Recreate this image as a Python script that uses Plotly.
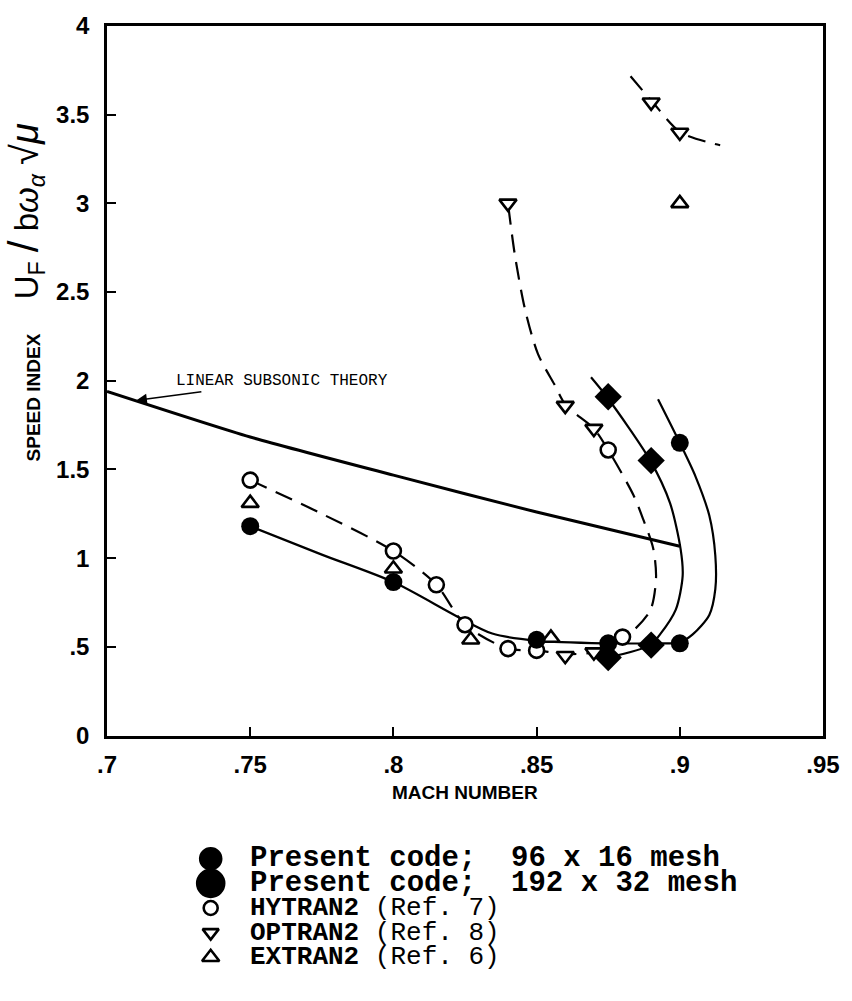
import plotly.graph_objects as go

# ---------------- data ----------------
mach_ticks = [0.70, 0.75, 0.80, 0.85, 0.90, 0.95]
mach_tick_text = [".7", ".75", ".8", ".85", ".9", ".95"]
speed_ticks = [0, 0.5, 1, 1.5, 2, 2.5, 3, 3.5, 4]
speed_tick_text = ["0", ".5", "1", "1.5", "2", "2.5", "3", "3.5", "4"]

# markers
mesh96_mach = [0.75, 0.80, 0.85, 0.875, 0.90, 0.90]
mesh96_speed = [1.18, 0.865, 0.54, 0.52, 0.52, 1.65]
mesh192_mach = [0.875, 0.89, 0.875, 0.89]
mesh192_speed = [1.91, 1.55, 0.44, 0.51]
hytran_mach = [0.75, 0.80, 0.815, 0.825, 0.84, 0.85, 0.88, 0.875]
hytran_speed = [1.44, 1.04, 0.85, 0.625, 0.49, 0.48, 0.555, 1.61]
optran_mach = [0.84, 0.86, 0.87, 0.86, 0.87, 0.89, 0.90]
optran_speed = [3.0, 1.86, 1.73, 0.45, 0.47, 3.57, 3.40]
extran_mach = [0.75, 0.80, 0.827, 0.855, 0.90]
extran_speed = [1.31, 0.94, 0.54, 0.55, 3.0]

# faired curves
linear_mach = [0.70, 0.75, 0.80, 0.85, 0.90]
linear_speed = [1.94, 1.683, 1.468, 1.26, 1.067]

fair96_mach = [0.75, 0.775, 0.80, 0.8224, 0.8345, 0.85, 0.8734, 0.89, 0.90,
               0.9045, 0.9103, 0.9124, 0.9124, 0.9103, 0.9055, 0.90, 0.8924]
fair96_speed = [1.18, 1.02, 0.865, 0.67, 0.575, 0.535, 0.52, 0.52, 0.525,
                0.57, 0.68, 0.825, 1.015, 1.24, 1.46, 1.65, 1.896]

fair192_mach = [0.875, 0.8897, 0.8931, 0.8986, 0.901, 0.9003, 0.8966, 0.8897, 0.8745, 0.869]
fair192_speed = [0.44, 0.51, 0.57, 0.71, 0.90, 1.05, 1.31, 1.55, 1.91, 2.02]

fairref_mach = [0.75, 0.775, 0.80, 0.815, 0.825, 0.84, 0.85, 0.86, 0.87, 0.88,
                0.8828, 0.8897, 0.8917, 0.8907, 0.8872, 0.8838, 0.875, 0.870,
                0.8603, 0.8562, 0.8505, 0.846, 0.8425, 0.84]
fairref_speed = [1.44, 1.25, 1.04, 0.85, 0.625, 0.49, 0.48, 0.46, 0.47, 0.555,
                 0.578, 0.706, 0.889, 1.056, 1.22, 1.356, 1.61, 1.73,
                 1.86, 1.98, 2.15, 2.4, 2.7, 3.0]

fairopt_mach = [0.8828, 0.8907, 0.9003, 0.9141]
fairopt_speed = [3.717, 3.567, 3.40, 3.328]

legend_labels = [
    "<b>Present code;\u00a0\u00a096 x 16 mesh</b>",
    "<b>Present code;\u00a0\u00a0192 x 32 mesh</b>",
    "<b>HYTRAN2</b> (Ref.\u00a07)",
    "<b>OPTRAN2</b> (Ref.\u00a08)",
    "<b>EXTRAN2</b> (Ref.\u00a06)",
]
legend_rows = [0, 1, 2, 3, 4]

# ---------------- layout helpers ----------------
W, H = 852, 1001
ML, MR, MT, MB = 107, 20, 17, 20
PW, PH = W - ML - MR, H - MT - MB


def px_x(px):          # pixel -> paper fraction
    return (px - ML) / PW


def px_y(py):
    return (H - MB - py) / PH


BLACK = "#000000"
fig = go.Figure()

line_solid = dict(color=BLACK, width=2.2, shape="spline", smoothing=0.8)
line_dash = dict(color=BLACK, width=2.2, shape="spline", smoothing=0.8, dash="18px,10px")

fig.add_trace(go.Scatter(x=linear_mach, y=linear_speed, mode="lines",
                         line=dict(color=BLACK, width=3, shape="spline", smoothing=0.6),
                         showlegend=False, hoverinfo="skip"))
fig.add_trace(go.Scatter(x=fair96_mach, y=fair96_speed, mode="lines", line=line_solid,
                         showlegend=False, hoverinfo="skip"))
fig.add_trace(go.Scatter(x=fair192_mach, y=fair192_speed, mode="lines", line=line_solid,
                         showlegend=False, hoverinfo="skip"))
fig.add_trace(go.Scatter(x=fairref_mach, y=fairref_speed, mode="lines", line=line_dash,
                         showlegend=False, hoverinfo="skip"))
fig.add_trace(go.Scatter(x=fairopt_mach, y=fairopt_speed, mode="lines", line=line_dash,
                         showlegend=False, hoverinfo="skip"))


def open_marker(sym, size):
    return dict(symbol=sym, size=size, color="white", opacity=1,
                line=dict(color=BLACK, width=2.6))


fig.add_trace(go.Scatter(x=hytran_mach, y=hytran_speed, mode="markers",
                         marker=open_marker("circle", 15), showlegend=False))
fig.add_trace(go.Scatter(x=optran_mach, y=optran_speed, mode="markers",
                         marker=open_marker("triangle-down", 15), showlegend=False))
fig.add_trace(go.Scatter(x=extran_mach, y=extran_speed, mode="markers",
                         marker=open_marker("triangle-up", 15), showlegend=False))
fig.add_trace(go.Scatter(x=mesh96_mach, y=mesh96_speed, mode="markers",
                         marker=dict(symbol="circle", size=18, color=BLACK, opacity=1),
                         showlegend=False))
fig.add_trace(go.Scatter(x=mesh192_mach, y=mesh192_speed, mode="markers",
                         marker=dict(symbol="diamond", size=21, color=BLACK, opacity=1),
                         showlegend=False))

# legend block below the chart: keys on an auxiliary axis, labels as annotations
legend_symbols = ["circle", "circle", "circle", "triangle-down", "triangle-up"]
legend_fill = [BLACK, BLACK, "#ffffff", "#ffffff", "#ffffff"]
legend_sizes = [21, 27, 14, 14, 15]
legend_fonts = [29, 29, 26, 26, 26]
for r, sym, fc, sz in zip(legend_rows, legend_symbols, legend_fill, legend_sizes):
    fig.add_trace(go.Scatter(x=[0], y=[r], mode="markers", xaxis="x2", yaxis="y2",
                             showlegend=False, hoverinfo="skip",
                             marker=dict(symbol=sym, size=sz, color=fc, opacity=1,
                                         line=dict(color=BLACK, width=2.6))))

row_top_px, row_step_px = 862, 25
annotations = []
for r, lab, fs in zip(legend_rows, legend_labels, legend_fonts):
    annotations.append(dict(x=px_x(250), y=px_y(row_top_px + row_step_px * r),
                            xref="paper", yref="paper",
                            text=lab, showarrow=False, xanchor="left", yanchor="middle",
                            font=dict(family="Liberation Mono", size=fs, color=BLACK)))

# linear theory label with arrow
annotations.append(dict(x=0.7103, y=1.89, xref="x", yref="y",
                        text="LINEAR SUBSONIC THEORY", showarrow=True,
                        ax=145, ay=-19, arrowhead=2, arrowsize=1.3, arrowwidth=1.6,
                        arrowcolor=BLACK, standoff=0,
                        font=dict(family="Liberation Mono", size=16, color=BLACK)))

# axis titles
annotations.append(dict(x=0.5, y=px_y(795), xref="paper", yref="paper",
                        text="MACH NUMBER", showarrow=False, xanchor="center", yanchor="middle",
                        font=dict(family="Liberation Sans", size=19, color=BLACK, weight="bold")))
annotations.append(dict(x=px_x(33), y=px_y(394), xref="paper", yref="paper",
                        text="SPEED INDEX", showarrow=False, textangle=-90,
                        xanchor="center", yanchor="middle",
                        font=dict(family="Liberation Sans", size=19, color=BLACK, weight="bold")))
annotations.append(dict(x=px_x(24), y=px_y(205), xref="paper", yref="paper",
                        text=("U<sub>F</sub>\u00a0<span style='font-size:42px'>/</span>\u00a0"
                              "b<i>ω</i><sub><i>α</i></sub>\u00a0"
                              "<span style='font-size:38px'>√<i>μ</i></span>"),
                        showarrow=False, textangle=-90,
                        xanchor="center", yanchor="middle",
                        font=dict(family="Liberation Sans", size=33, color=BLACK)))

# auxiliary axis placement for the legend keys (one unit per row)
key_half = 20
key_dom = [px_x(212 - key_half), px_x(212 + key_half)]
row_dom = [px_y(row_top_px + row_step_px * 4.5), px_y(row_top_px - row_step_px * 0.5)]
hidden = dict(showline=False, showgrid=False, zeroline=False, showticklabels=False,
              ticks="", fixedrange=True)

fig.update_layout(
    width=W, height=H,
    margin=dict(l=ML, r=MR, t=MT, b=MB),
    paper_bgcolor="white", plot_bgcolor="rgba(0,0,0,0)",
    showlegend=False,
    annotations=annotations,
    xaxis=dict(range=[0.70, 0.95], domain=[0, 1], anchor="y",
               tickvals=mach_ticks, ticktext=mach_tick_text,
               ticks="inside", ticklen=9, tickwidth=2, tickcolor=BLACK,
               showline=True, linecolor=BLACK, linewidth=2.5, mirror=True,
               showgrid=False, zeroline=False, ticklabelstandoff=6,
               tickfont=dict(family="Liberation Sans", size=24, color=BLACK, weight="bold")),
    yaxis=dict(range=[0, 4], domain=[px_y(737), 1], anchor="x",
               tickvals=speed_ticks, ticktext=speed_tick_text,
               ticks="inside", ticklen=9, tickwidth=2, tickcolor=BLACK,
               showline=True, linecolor=BLACK, linewidth=2.5, mirror=True,
               showgrid=False, zeroline=False, ticklabelstandoff=10,
               tickfont=dict(family="Liberation Sans", size=24, color=BLACK, weight="bold")),
    xaxis2=dict(range=[-1, 1], domain=key_dom, anchor="y2", **hidden),
    yaxis2=dict(range=[4.5, -0.5], domain=row_dom, anchor="x2", **hidden),
)

fig.write_html("out.html")
